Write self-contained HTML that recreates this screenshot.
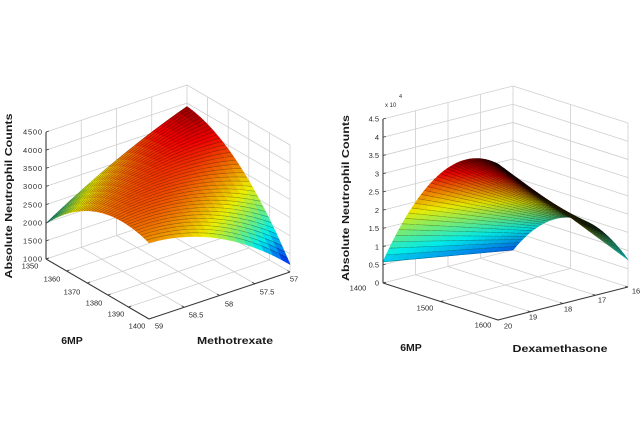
<!DOCTYPE html>
<html><head><meta charset="utf-8">
<style>
html,body{margin:0;padding:0;background:#fff;}
svg{display:block;}
text{font-family:"Liberation Sans",Arial,sans-serif;fill:#2a2a2a;}
.t{font-size:7.5px;}
.b{font-weight:bold;font-size:10.5px;fill:#1a1a1a;}
</style></head><body>
<svg id="s" width="640" height="427" viewBox="0 0 640 427" xmlns="http://www.w3.org/2000/svg">
<rect width="640" height="427" fill="#fff"/>
<g id="grid" stroke="#cfcfcf" stroke-width="0.8" fill="none"></g>
<g id="surf"></g>
<g id="axes" stroke="#3a3a3a" stroke-width="1.1" fill="none"></g>

<!-- Left plot z tick labels -->
<g class="t" text-anchor="end">
<text x="42" y="261.7" textLength="19">1000</text>
<text x="42" y="243.6" textLength="19">1500</text>
<text x="42" y="225.4" textLength="19">2000</text>
<text x="42" y="207.3" textLength="19">2500</text>
<text x="42" y="189.1" textLength="19">3000</text>
<text x="42" y="171.0" textLength="19">3500</text>
<text x="42" y="152.8" textLength="19">4000</text>
<text x="42" y="134.7" textLength="19">4500</text>
</g>
<!-- Left 6MP labels -->
<g class="t" text-anchor="middle">
<text x="30" y="268.7">1350</text>
<text x="52" y="281.7">1360</text>
<text x="72" y="294.7">1370</text>
<text x="94" y="305.7">1380</text>
<text x="116" y="316.7">1390</text>
<text x="137" y="328.7">1400</text>
<text x="159" y="328.7">59</text>
<text x="196" y="317.7">58.5</text>
<text x="229" y="306.7">58</text>
<text x="267" y="294.7">57.5</text>
<text x="294" y="281.7">57</text>
</g>
<text class="b" transform="translate(12,196) rotate(-90)" text-anchor="middle" textLength="165" lengthAdjust="spacingAndGlyphs">Absolute Neutrophil Counts</text>
<text class="b" x="72" y="344" text-anchor="middle">6MP</text>
<text class="b" x="235" y="344" text-anchor="middle" textLength="76" lengthAdjust="spacingAndGlyphs">Methotrexate</text>

<!-- Right plot z tick labels -->
<g class="t" text-anchor="end">
<text x="379" y="285.7">0</text>
<text x="379" y="267.5">0.5</text>
<text x="379" y="249.3">1</text>
<text x="379" y="231.0">1.5</text>
<text x="379" y="212.8">2</text>
<text x="379" y="194.6">2.5</text>
<text x="379" y="176.4">3</text>
<text x="379" y="158.1">3.5</text>
<text x="379" y="139.9">4</text>
<text x="379" y="121.7">4.5</text>
</g>
<text x="385" y="107" style="font-size:6px">x 10</text>
<text x="399" y="98" style="font-size:5.5px">4</text>
<g class="t" text-anchor="middle">
<text x="358" y="290.7">1400</text>
<text x="425" y="310.7">1500</text>
<text x="483" y="327.7">1600</text>
<text x="508" y="328.7">20</text>
<text x="533" y="319.7">19</text>
<text x="568" y="311.7">18</text>
<text x="602" y="302.7">17</text>
<text x="636" y="293.7">16</text>
</g>
<text class="b" transform="translate(349,198) rotate(-90)" text-anchor="middle" textLength="166" lengthAdjust="spacingAndGlyphs">Absolute Neutrophil Counts</text>
<text class="b" x="411" y="351" text-anchor="middle">6MP</text>
<text class="b" x="560" y="352" text-anchor="middle" textLength="95" lengthAdjust="spacingAndGlyphs">Dexamethasone</text>
</svg>
<script>
(function(){
var NS="http://www.w3.org/2000/svg";
function el(tag,attrs,parent){var e=document.createElementNS(NS,tag);for(var k in attrs)e.setAttribute(k,attrs[k]);parent.appendChild(e);return e;}
function line(p,q,par,extra){var a={x1:p[0].toFixed(2),y1:p[1].toFixed(2),x2:q[0].toFixed(2),y2:q[1].toFixed(2)};if(extra)for(var k in extra)a[k]=extra[k];return el('line',a,par);}
function cl(v){return Math.max(0,Math.min(1,v));}
function jet(t){t=cl(t);return [cl(1.5-Math.abs(4*t-3)),cl(1.5-Math.abs(4*t-2)),cl(1.5-Math.abs(4*t-1))];}
function rgb(c,k){return 'rgb('+Math.round(c[0]*255*k)+','+Math.round(c[1]*255*k)+','+Math.round(c[2]*255*k)+')';}
function dist(p,q){return Math.hypot(p[0]-q[0],p[1]-q[1]);}

function plot(P){
 var L=P.L,F=P.F,B=P.B,H=P.H;
 var R=[F[0]+B[0]-L[0],F[1]+B[1]-L[1]];
 function fl(a,b){return [L[0]+a*(F[0]-L[0])+b*(B[0]-L[0]), L[1]+a*(F[1]-L[1])+b*(B[1]-L[1])];}
 function up(p,h){return [p[0],p[1]-h];}
 var g=document.getElementById('grid');
 var k,p,h;
 for(k=0;k<P.nz;k++){h=H*k/(P.nz-1);line(up(L,h),up(B,h),g);line(up(B,h),up(R,h),g);}
 for(k=1;k<=P.nb;k++){p=fl(0,k/P.nb);line(p,up(p,H),g);}
 for(k=1;k<=P.na;k++){p=fl(k/P.na,1);line(p,up(p,H),g);}
 for(k=1;k<P.na;k++){line(fl(k/P.na,0),fl(k/P.na,1),g);}
 for(k=1;k<P.nb;k++){line(fl(0,k/P.nb),fl(1,k/P.nb),g);}
 // surface
 var s=document.getElementById('surf');
 var Na=P.Na,Nb=P.Nb,list=[],i,j;
 for(i=0;i<Na;i++)for(j=0;j<Nb;j++){list.push([i,j,(1-(i+.5)/Na)+(j+.5)/Nb]);}
 list.sort(function(x,y){return y[2]-x[2];});
 function pt(a,b){var f=fl(a,b);return [f[0],f[1]-H*P.z(a,b)];}
 function ps(arr){return arr.map(function(q){return q[0].toFixed(2)+','+q[1].toFixed(2);}).join(' ');}
 list.forEach(function(it){
  var i=it[0],j=it[1];var a0=i/Na,a1=(i+1)/Na,b0=j/Nb,b1=(j+1)/Nb;
  var p1=pt(a0,b0),p2=pt(a1,b0),p3=pt(a1,b1),p4=pt(a0,b1);
  var area=Math.abs((p1[0]*p2[1]-p2[0]*p1[1])+(p2[0]*p3[1]-p3[0]*p2[1])+(p3[0]*p4[1]-p4[0]*p3[1])+(p4[0]*p1[1]-p1[0]*p4[1]))/2;
  var per=dist(p1,p2)+dist(p2,p3)+dist(p3,p4)+dist(p4,p1);
  var d=Math.max(0,Math.min(0.85,P.dw*per/(2*Math.max(area,0.01))-P.d0));
  var zm=P.zc((a0+a1)/2,(b0+b1)/2);
  var c=rgb(jet((zm-P.cmin)/(P.cmax-P.cmin)),P.k*(1-d));
  el('polygon',{points:ps([p1,p2,p3,p4]),fill:c,stroke:c,'stroke-width':0.6,'stroke-linejoin':'round'},s);
  line(p1,p4,s,{stroke:'rgba(0,0,0,'+P.eo+')','stroke-width':P.ew});
 });
 // axes
 var ax=document.getElementById('axes');
 line(L,up(L,H),ax);
 line(L,F,ax);line(F,R,ax);
 var db=[(B[0]-L[0]),(B[1]-L[1])],nb=Math.hypot(db[0],db[1]);db=[db[0]/nb*3,db[1]/nb*3];
 var da=[(L[0]-F[0]),(L[1]-F[1])],na=Math.hypot(da[0],da[1]);da=[da[0]/na*3,da[1]/na*3];
 for(k=0;k<P.nz;k++){h=H*k/(P.nz-1);var q=up(L,h);line(q,[q[0]+db[0],q[1]+db[1]],ax,{'stroke-width':0.8});}
 for(k=0;k<=P.na;k++){var q=fl(k/P.na,0);line(q,[q[0]+db[0],q[1]+db[1]],ax,{'stroke-width':0.8});}
 for(k=0;k<=P.nb;k++){var q=fl(1,k/P.nb);line(q,[q[0]+da[0],q[1]+da[1]],ax,{'stroke-width':0.8});}
}

// Left plot
function zl(a,b){return 0.28+0.99*a-0.67*a*a+(0.7-0.76*a)*b+(-0.15-0.33*a)*b*b;}
plot({L:[46,259],F:[149,319],B:[187,212],H:127,nz:8,na:5,nb:4,Na:38,Nb:16,
 z:zl,zc:zl,
 cmin:-0.07,cmax:0.86,k:0.93,eo:0.38,ew:0.6,dw:0.4,d0:0.4});

// Right plot
function zr(a,b){return (1-b)*(0.58+8*a-4.3*a*a)+b*(4.86*a-4.11*a*a);}
plot({L:[383,283],F:[498,320],B:[513,250],H:164,nz:10,na:2,nb:4,Na:36,Nb:20,
 z:function(a,b){return zr(a,b)/4.5;},
 zc:zr,
 cmin:-1.2,cmax:4.2,k:0.92,eo:0.38,ew:0.55,dw:0.5,d0:0.2});
})();
</script>
</body></html>
